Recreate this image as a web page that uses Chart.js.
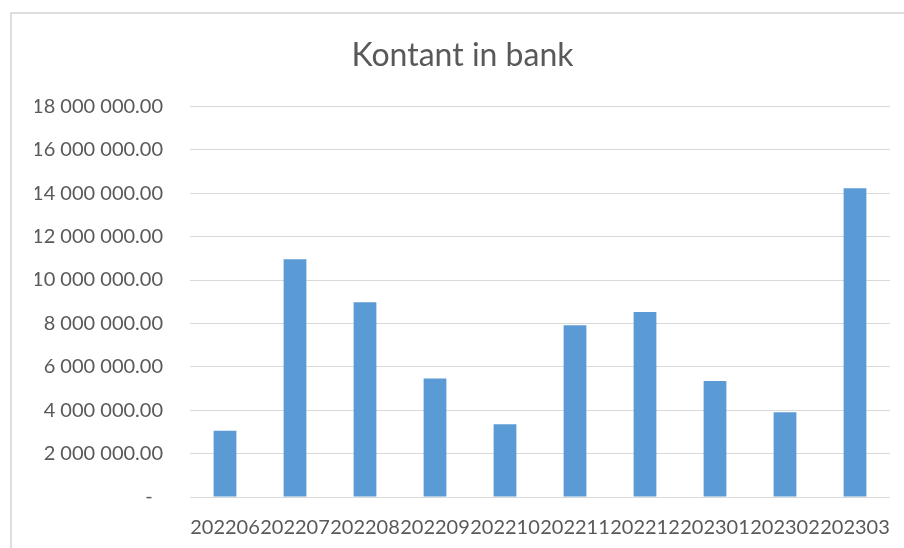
<!DOCTYPE html>
<html>
<head>
<meta charset="utf-8">
<script src="https://cdn.jsdelivr.net/npm/chart.js@4/dist/chart.umd.min.js"></script>
<style>
  html, body { margin: 0; padding: 0; background: #ffffff; }
  #wrap { width: 904px; height: 548px; }
</style>
</head>
<body>
<div id="wrap"><canvas id="c" width="904" height="548"></canvas></div>
<script>
// Monthly period codes (YYYYMM)
const months = ['202206', '202207', '202208', '202209', '202210', '202211', '202212', '202301', '202302', '202303'];
// Cash held at the bank per month
const cashBalance = [3050000, 10960000, 8970000, 5460000, 3350000, 7910000, 8520000, 5350000, 3910000, 14230000];
// Value axis ticks
const yTicks = [0, 2000000, 4000000, 6000000, 8000000, 10000000, 12000000, 14000000, 16000000, 18000000];

const FONT = 'Lato, "Open Sans", "DejaVu Sans", sans-serif';
const TEXT = '#595959';
const GRID = '#d9d9d9';

// Accounting-style number: space thousands separator, two decimals, dash for zero
function accounting(v) {
  if (v === 0) return '-  ';
  const whole = Math.round(v).toString().replace(/\B(?=(\d{3})+(?!\d))/g, ' ');
  return whole + '.00';
}

// White background plus the light frame around the chart
const framePlugin = {
  id: 'frame',
  beforeDraw(chart) {
    const ctx = chart.ctx;
    ctx.save();
    ctx.fillStyle = '#ffffff';
    ctx.fillRect(0, 0, chart.width, chart.height);
    ctx.strokeStyle = '#dedede';
    ctx.lineWidth = 2;
    ctx.strokeRect(11, 13, chart.width + 20, chart.height + 20);
    ctx.restore();
  }
};

new Chart(document.getElementById('c'), {
  type: 'bar',
  data: {
    labels: months,
    datasets: [{
      label: 'Kontant in bank',
      data: cashBalance,
      backgroundColor: '#5b9bd5',
      borderWidth: 0,
      categoryPercentage: 1,
      barPercentage: 0.325
    }]
  },
  options: {
    responsive: false,
    animation: false,
    layout: { padding: { left: 35, right: 14, top: 0, bottom: 0 } },
    plugins: {
      legend: { display: false },
      tooltip: { enabled: false },
      title: {
        display: true,
        text: 'Kontant in bank',
        color: TEXT,
        font: { family: FONT, size: 32, weight: 'normal', lineHeight: 1.2 },
        padding: { top: 36, bottom: 32 }
      }
    },
    scales: {
      x: {
        grid: { display: false, drawTicks: false },
        border: { display: false },
        afterFit(scale) {
          scale.height = 51;
          // keep the plot area flush with the layout padding on both sides
          scale.paddingLeft = 0;
          scale.paddingRight = 0;
        },
        ticks: {
          color: TEXT,
          font: { family: FONT, size: 20 },
          padding: 19,
          autoSkip: false,
          maxRotation: 0,
          minRotation: 0
        }
      },
      y: {
        min: 0,
        max: 18000000,
        grid: { color: GRID, lineWidth: 1, drawTicks: false },
        border: { display: false },
        afterBuildTicks(scale) {
          scale.ticks = yTicks.map(v => ({ value: v }));
        },
        afterFit(scale) {
          scale.width = 155;
        },
        ticks: {
          color: TEXT,
          font: { family: FONT, size: 20 },
          padding: 27,
          callback: (v) => accounting(v)
        }
      }
    }
  },
  plugins: [framePlugin]
});
</script>
</body>
</html>
